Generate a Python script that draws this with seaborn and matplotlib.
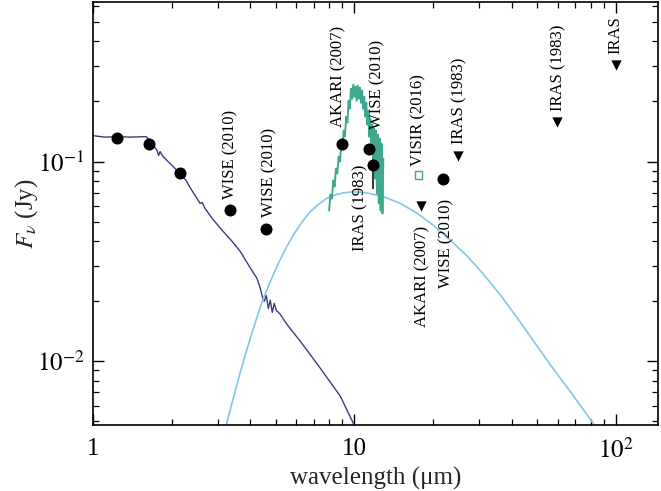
import numpy as np
import pandas as pd
import matplotlib
matplotlib.use("Agg")
import matplotlib.pyplot as plt
import seaborn as sns
from matplotlib.ticker import LogLocator, NullFormatter, FixedLocator, FixedFormatter

# ---------------- data ----------------
# stellar photosphere model
phot_wl = [1.000, 1.112, 1.236, 1.386, 1.596, 1.668, 1.728, 1.759, 1.782, 1.806,
           1.854, 1.921, 2.026, 2.154, 2.272, 2.353, 2.459, 2.570, 2.616, 2.686,
           2.857, 3.148, 3.409, 3.658, 3.926, 4.239, 4.364, 4.442, 4.521, 4.601,
           4.683, 4.766, 4.851, 4.937, 5.025, 5.206, 5.393, 5.587, 6.210, 7.408,
           8.839, 10.05]
phot_flux = [0.1349, 0.1326, 0.1334, 0.1326, 0.1334, 0.1259, 0.1175, 0.1135, 0.1072, 0.1122,
             0.1059, 0.1012, 0.0944, 0.0871, 0.0804, 0.0741, 0.0676, 0.0617, 0.0624, 0.0582,
             0.0519, 0.0447, 0.0398, 0.0355, 0.0305, 0.0260, 0.0232, 0.0211, 0.0200, 0.0214,
             0.0184, 0.0202, 0.0176, 0.0195, 0.0180, 0.0172, 0.0160, 0.0150, 0.0126, 0.00923,
             0.00668, 0.00470]

# warm dust blackbody
bb_wl = [3.176, 3.440, 3.658, 3.890, 4.140, 4.442, 4.766, 5.114, 5.489, 5.890,
         6.321, 6.783, 7.279, 7.810, 8.383, 8.995, 9.654, 10.36, 11.21, 12.91,
         15.01, 17.43, 20.07, 23.33, 27.10, 31.22, 36.26, 42.12, 48.52, 56.36,
         67.25, 84.6]
bb_flux = [0.00438, 0.00653, 0.00881, 0.01161, 0.01514, 0.0200, 0.0251, 0.0309, 0.0372, 0.0437,
           0.0501, 0.0562, 0.0610, 0.0653, 0.0680, 0.0696, 0.0704, 0.0704, 0.0696, 0.0668,
           0.0617, 0.0550, 0.0479, 0.0403, 0.0335, 0.0272, 0.0214, 0.0164, 0.0126, 0.00955,
           0.00700, 0.00462]

# mid-IR spectrum
spec_wl = [8.0, 8.1, 8.2, 8.3, 8.4, 8.5, 8.6, 8.7, 8.8, 8.9,
           9.0, 9.1, 9.2, 9.3, 9.4, 9.5, 9.6, 9.7, 9.8, 9.9,
           10.0, 10.1, 10.2, 10.3, 10.4, 10.5, 10.6, 10.7, 10.8, 10.9,
           11.0, 11.1, 11.2, 11.3, 11.4, 11.5, 11.6, 11.7, 11.8, 11.9,
           12.0, 12.1, 12.2, 12.3, 12.4, 12.5, 12.6, 12.7, 12.8, 12.9]
spec_flux = [0.0569, 0.0684, 0.0653, 0.0804, 0.0750, 0.0923, 0.0871, 0.1059, 0.1000, 0.1216,
             0.1161, 0.1429, 0.1334, 0.1679, 0.1567, 0.2018, 0.1841, 0.2317, 0.2065, 0.2427,
             0.2113, 0.2371, 0.2018, 0.2399, 0.2065, 0.2344, 0.1972, 0.2265, 0.1841, 0.2113,
             0.1679, 0.1972, 0.1531, 0.1799, 0.1334, 0.1641, 0.1161, 0.1531, 0.0977, 0.1462,
             0.0822, 0.1429, 0.0692, 0.1365, 0.0617, 0.1303, 0.0569, 0.1230, 0.0550, 0.1035]

# photometric detections
det_wl = [1.236, 1.64, 2.15, 3.35, 4.6, 9.0, 11.4, 11.8, 21.9]
det_flux = [0.132, 0.122, 0.088, 0.0575, 0.046, 0.123, 0.116, 0.0966, 0.082]
det_label = ['', '', '', 'WISE (2010)', 'WISE (2010)', 'AKARI (2007)', 'WISE (2010)',
             'IRAS (1983)', 'WISE (2010)']
det_err_low = [0, 0, 0, 0, 0, 0, 0, 0.0236, 0]

# upper limits
ul_wl = [17.9, 24.8, 59.4, 100.0]
ul_flux = [0.060, 0.107, 0.158, 0.305]
ul_label = ['AKARI (2007)', 'IRAS (1983)', 'IRAS (1983)', 'IRAS']

# VISIR
visir_wl = [17.6]
visir_flux = [0.086]
visir_label = ['VISIR (2016)']

xtick_vals = [1, 10, 100]
xtick_labels = ['1', '10', r'$10^2$']
ytick_vals = [0.01, 0.1]
ytick_labels = [r'$10^{-2}$', r'$10^{-1}$']

# label placement style: (dx pt, dy pt, va)
det_lab_style = [None, None, None, (0, 8, 'bottom'), (2, 8.6, 'bottom'), (-3, 12, 'bottom'),
                 (6, 14, 'bottom'), (-9.4, 0, 'top'), (2, -14.4, 'top')]
ul_lab_style = [(1, -14.4, 'top'), (1, 8.6, 'bottom'), (1.5, 8, 'bottom'), (0, 8, 'bottom')]
visir_lab_style = [(0, 6, 'bottom')]

# ---------------- style ----------------
sns.set_theme(style="ticks")
plt.rcParams['font.family'] = ['Liberation Serif', 'DejaVu Serif']
plt.rcParams['mathtext.fontset'] = 'stix'

fig = plt.figure(figsize=(6.61, 4.91), dpi=100)
ax = fig.add_axes([0.1407, 0.1344, 0.8548, 0.8616])

PURPLE = '#3d3a88'
SKY = '#82c8e6'
TEAL = '#3ea98f'

sns.lineplot(x=phot_wl, y=phot_flux, ax=ax, color=PURPLE, lw=1.0, sort=False,
             estimator=None, zorder=2)
sns.lineplot(x=bb_wl, y=bb_flux, ax=ax, color=SKY, lw=1.2, sort=False,
             estimator=None, zorder=2)
sns.lineplot(x=spec_wl, y=spec_flux, ax=ax, color=TEAL, lw=1.4, sort=False,
             estimator=None, zorder=3)

det_df = pd.DataFrame({'wl': det_wl, 'flux': det_flux})
sns.scatterplot(data=det_df, x='wl', y='flux', ax=ax, color='black', s=75,
                marker='o', edgecolor='black', linewidth=0, zorder=5)
for w, f, e in zip(det_wl, det_flux, det_err_low):
    if e > 0:
        ax.errorbar([w], [f], yerr=[[e], [0]], fmt='none', ecolor='black',
                    elinewidth=1.1, capsize=0, zorder=4)

ul_df = pd.DataFrame({'wl': ul_wl, 'flux': ul_flux})
sns.scatterplot(data=ul_df, x='wl', y='flux', ax=ax, color='black', s=55,
                marker='v', edgecolor='black', linewidth=0, zorder=5)

vis_df = pd.DataFrame({'wl': visir_wl, 'flux': visir_flux})
sns.scatterplot(data=vis_df, x='wl', y='flux', ax=ax, s=30, marker='s',
                facecolor='none', edgecolor=TEAL, linewidth=1.0, zorder=5)

def put_labels(wls, fls, labs, styles):
    for w, f, t, st in zip(wls, fls, labs, styles):
        if not t or st is None:
            continue
        dx, dy, va = st
        ax.annotate(t, xy=(w, f), xytext=(dx, dy), textcoords='offset points',
                    rotation=90, ha='center', va=va, fontsize=12, color='black',
                    zorder=6)

put_labels(det_wl, det_flux, det_label, det_lab_style)
put_labels(ul_wl, ul_flux, ul_label, ul_lab_style)
put_labels(visir_wl, visir_flux, visir_label, visir_lab_style)

ax.set_xscale('log')
ax.set_yscale('log')
ax.set_xlim(1, 145)
ax.set_ylim(0.0048, 0.63)

ax.xaxis.set_major_locator(FixedLocator(xtick_vals))
ax.xaxis.set_major_formatter(FixedFormatter(xtick_labels))
ax.yaxis.set_major_locator(FixedLocator(ytick_vals))
ax.yaxis.set_major_formatter(FixedFormatter(ytick_labels))
ax.xaxis.set_minor_locator(LogLocator(base=10, subs=np.arange(2, 10), numticks=20))
ax.yaxis.set_minor_locator(LogLocator(base=10, subs=np.arange(2, 10), numticks=20))
ax.xaxis.set_minor_formatter(NullFormatter())
ax.yaxis.set_minor_formatter(NullFormatter())

ax.tick_params(which='both', direction='in', top=True, right=True, colors='black',
               labelsize=18)
ax.tick_params(axis='x', which='major', length=8, width=1.0, pad=9)
ax.tick_params(axis='y', which='major', length=8, width=1.0, pad=6)
ax.tick_params(which='minor', length=4, width=0.9)
for sp in ax.spines.values():
    sp.set_linewidth(1.2)
    sp.set_color('black')

ax.set_xlabel('wavelength (μm)', fontsize=18, labelpad=3)
ax.set_ylabel(r'$F_{\nu}$ (Jy)', fontsize=18, labelpad=-2)

fig.savefig('out.png', dpi=100)
